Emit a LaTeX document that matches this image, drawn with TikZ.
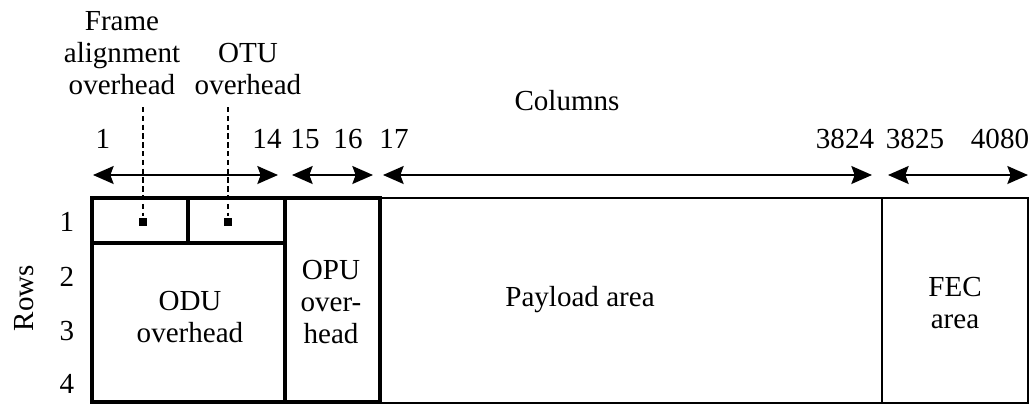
\documentclass[tikz,border=0pt]{standalone}
\usepackage{fontspec}
\setmainfont{Liberation Serif}
\usetikzlibrary{arrows.meta}
\begin{document}
\begin{tikzpicture}[x=0.75pt,y=-0.75pt,
  lbl/.style={font=\fontsize{21.8}{24.2}\selectfont, inner sep=0pt, align=center},
  heavy/.style={line width=3pt, line join=miter},
  light/.style={line width=1.3pt},
  head/.tip={Stealth[length=15.5pt,width=13.5pt,inset=2.5pt]},
  span/.style={line width=1.2pt, head-head},
  pointer/.style={line width=1.6pt, dash pattern=on 4pt off 2.6pt},
  marker/.style={fill, minimum size=6pt, inner sep=0pt, outer sep=0pt}
]
\useasboundingbox (0,0) rectangle (1033,405);

% frame outline: payload and FEC part (thin)
\draw[light] (380,198) rectangle (1028,403);
\draw[light] (882,198) -- (882,403);

% overhead part (thick)
\draw[heavy] (92,198) rectangle (380,402);
\draw[heavy] (285,198) -- (285,402);
\draw[heavy] (92,243) -- (285,243);
\draw[heavy] (188,198) -- (188,243);

% region labels
\node[lbl] (odu) at (190,317) {ODU\\overhead};
\node[lbl] (opu) at (331,302) {OPU\\over-\\head};
\node[lbl] (pay) at (580,300) {Payload area};
\node[lbl] (fec) at (955,303) {FEC\\area};

% row numbers
\node[lbl] (r1) at (67,222) {1};
\node[lbl] (r2) at (67,277) {2};
\node[lbl] (r3) at (67,331) {3};
\node[lbl] (r4) at (67,384) {4};
\node[lbl, rotate=90] (rows) at (24,298) {Rows};

% column numbers
\node[lbl] (c1) at (103,139) {1};
\node[lbl] (c14) at (267,139) {14};
\node[lbl] (c15) at (305,139) {15};
\node[lbl] (c16) at (348,139) {16};
\node[lbl] (c17) at (394,139) {17};
\node[lbl] (c3824) at (845,139) {3824};
\node[lbl] (c3825) at (915,139) {3825};
\node[lbl] (c4080) at (1000,139) {4080};
\node[lbl] (cols) at (567,101) {Columns};

% column span arrows
\coordinate (a1s) at (93,175);  \coordinate (a1e) at (278,175);
\coordinate (a2s) at (292,175); \coordinate (a2e) at (373,175);
\coordinate (a3s) at (383,175); \coordinate (a3e) at (872,175);
\coordinate (a4s) at (888,175); \coordinate (a4e) at (1028,175);
\draw[span] (a1s) -- (a1e);
\draw[span] (a2s) -- (a2e);
\draw[span] (a3s) -- (a3e);
\draw[span] (a4s) -- (a4e);

% overhead callouts
\node[lbl] (fa) at (122,53) {Frame\\alignment\\overhead};
\node[lbl] (otu) at (248,69) {OTU\\overhead};
\node[marker] (fam) at (143,222) {};
\node[marker] (otum) at (228,222) {};
\coordinate (fatop) at (143,107);
\coordinate (otutop) at (228,107);
\draw[pointer] (fatop) -- ([yshift=1.5pt]fam.north);
\draw[pointer] (otutop) -- ([yshift=1.5pt]otum.north);
\end{tikzpicture}
\end{document}
